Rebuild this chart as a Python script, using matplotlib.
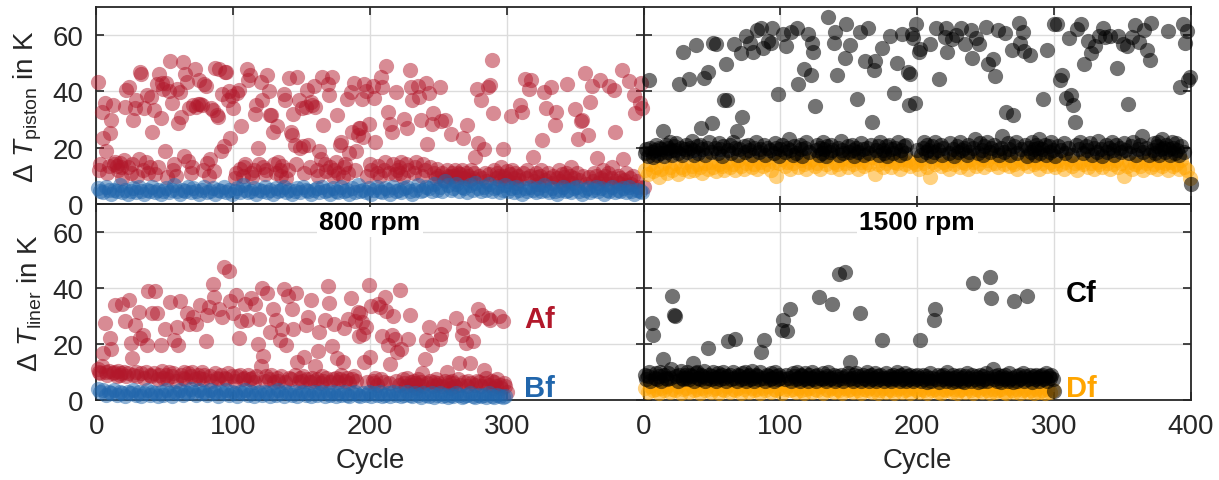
# -*- coding: utf-8 -*-
# Temperature rise per cycle, piston and liner, 800 rpm vs 1500 rpm
import numpy as np
import matplotlib
matplotlib.use('Agg')
import matplotlib.pyplot as plt

# ---------------- data ----------------
# piston, 800 rpm: Af every cycle 1..400, Bf every 2nd cycle 1..399
af_piston = [
    43.3, 12, 14, 32.7, 23.5, 35.9, 18.7, 11, 13.5, 25.2,
    29.8, 35, 14, 15, 13.5, 12, 14.5, 13, 9, 15.5,
    34.5, 40.4, 13, 41.5, 11, 14, 29.8, 34, 36.8, 10,
    16, 46.8, 46.3, 12, 34, 15, 38.6, 11, 13, 38,
    25.7, 33.3, 10.5, 42.7, 13, 46.2, 30.5, 43, 40.9, 18.7,
    43, 9.5, 40.2, 50.9, 35.8, 12, 14, 10, 40.9, 28.7,
    39.9, 31, 50.3, 17, 46.3, 43.5, 15.2, 34, 11, 13,
    35.1, 48, 34.5, 35.6, 44, 35.6, 35, 12, 42.8, 42,
    14.6, 10, 16, 34, 33.3, 11.5, 48.5, 31.6, 31, 48,
    18.7, 39, 20.5, 47, 47, 36.8, 40.3, 23.5, 38.5, 34,
    9, 11, 39.5, 40.4, 12.5, 27.5, 10, 13, 14, 48,
    44, 46, 11, 9.5, 12, 32, 35, 20, 14, 43.5,
    36.8, 13, 10.5, 12, 46, 40, 31.7, 31.7, 25.7, 14,
    11, 27.5, 15, 12, 10, 13.5, 39, 36.8, 9, 12,
    44.7, 25.7, 24.5, 32, 21, 14, 45, 36.8, 19.9, 34,
    20.5, 11, 34.5, 40.4, 21, 13, 36.3, 35, 42, 34.5,
    12, 10, 18.7, 15.8, 45, 28, 14, 11.5, 42.7, 38.6,
    13, 45, 10, 12, 15, 31.7, 11, 21, 22, 9.5,
    13, 14, 37.4, 11, 18, 39.9, 25.7, 43, 12, 18.7,
    24.5, 26.9, 27, 37.4, 23.6, 42.8, 40, 10, 28.5, 14,
    12, 42, 37.5, 22, 11, 13.5, 10, 45, 41.5, 12,
    15, 48.9, 32.6, 11, 28.4, 25.5, 14, 10.5, 39.8, 12,
    13, 11, 15, 9.5, 30, 14, 27, 12, 47.6, 41.5,
    36.8, 11, 13, 15, 42, 37.9, 29.8, 10, 14, 12,
    42.9, 21.3, 39.3, 13, 28.4, 32.4, 11, 9, 12.5, 10,
    41.5, 29.3, 11, 8.5, 29.8, 12, 10, 9.5, 24.9, 11,
    10, 12, 8, 11, 9.5, 10.5, 12, 23.4, 9, 11,
    28, 10, 8.5, 12, 9, 11, 16.7, 40.7, 21.5, 10,
    37.1, 9, 19.4, 11, 8, 41.5, 10.5, 42.4, 51.2, 32.2,
    12, 9, 11, 10, 8.5, 13, 19.4, 10, 9, 11.5,
    8, 10.5, 31.3, 12, 9, 11, 7.5, 10, 8.5, 35,
    32.7, 11, 44.4, 9, 12, 41, 10, 44, 16.6, 8,
    11, 9.5, 7, 10, 12, 22.6, 39.9, 8.5, 34, 11,
    9, 41.5, 7.5, 10, 27.9, 32.7, 9, 12, 8, 10.5,
    7, 9.5, 11, 42.7, 8, 10, 13, 7.5, 9, 33.6,
    11, 23.2, 8.5, 29.5, 29.8, 10, 46.4, 7, 24.3, 9.5,
    36.3, 42, 8, 11, 10, 16.1, 7.5, 44, 9, 12,
    8.5, 10, 7, 11, 42, 9, 13, 40.4, 25.4, 8,
    10, 7.5, 9, 47.6, 16, 8.5, 11, 6.5, 43.8, 9,
    7, 10, 38.6, 32.2, 8, 6, 36, 43, 34, 6,
]
bf_piston = [
    5.5, 4.5, 4, 6, 5, 3.5, 5, 4.5, 6.5, 4,
    5, 3.5, 4.5, 5.5, 4, 6, 4.5, 3.5, 5, 4.5,
    6, 4, 5, 3.5, 4.5, 5.5, 4, 5, 6.5, 4.5,
    3.5, 5, 4.5, 6, 4, 5.5, 4.5, 3.5, 5, 6,
    4, 4.5, 5.5, 3.5, 5, 4.5, 6, 4, 5, 3.5,
    4.5, 5.5, 4, 6.5, 5, 4, 4.5, 5.5, 3.5, 5,
    4.5, 6, 4, 5, 3.5, 5.5, 4.5, 5, 6, 4,
    5, 3.5, 4.5, 5.5, 4, 6, 5, 4.5, 3.5, 5,
    5.5, 4, 6, 4.5, 5, 3.5, 5.5, 4.5, 4, 6,
    4.5, 5, 3.5, 5.5, 4, 6.5, 4.5, 5, 4, 5.5,
    3.5, 5, 6, 4.5, 4, 5.5, 5, 3.5, 6, 4.5,
    5, 4, 5.5, 6, 4.5, 3.5, 5, 6.5, 4.5, 5,
    6, 5.5, 4.5, 7, 5, 6, 4.5, 8, 6.5, 5,
    5.5, 7, 4.5, 6, 5.5, 4, 6.5, 5, 7.5, 5.5,
    4.5, 6, 5, 7, 4.5, 5.5, 6, 4, 5, 6.5,
    4.5, 5.5, 4, 6, 5, 3.5, 5.5, 4.5, 6, 5,
    4, 5.5, 4.5, 6.5, 5, 4, 5.5, 4.5, 3.5, 5,
    6, 4.5, 5, 4, 5.5, 6, 4.5, 3.5, 5, 5.5,
    4, 5, 6, 4.5, 5.5, 3.5, 5, 4.5, 6, 4,
    5, 4.5, 5.5, 4, 6, 4.5, 3.5, 5, 4.5, 4,
]

# piston, 1500 rpm: Cf every cycle 1..400, Df every 2nd cycle 1..399
cf_piston = [
    18, 19.5, 17, 44.2, 20, 18.5, 16.5, 19, 21, 17.5,
    20, 18, 19.5, 26, 17, 21, 18.5, 20, 22, 19,
    17.5, 20.5, 19, 21.5, 18, 42.7, 20, 17.5, 54, 19.5,
    21, 18.5, 44.4, 20, 22.5, 19, 17.5, 56.7, 20.5, 18,
    21, 27, 19.5, 44.7, 17.5, 20, 46.8, 22, 18.5, 28.7,
    57.3, 20, 57, 18, 21.5, 19.5, 17, 20.5, 36.8, 49.7,
    37, 19, 21, 18, 22, 57, 20, 26, 17.5, 19.5,
    53.8, 31, 20.5, 18.5, 59.6, 21, 19, 57.3, 17.5, 54,
    20, 22, 62, 18.5, 19.5, 62.6, 55.5, 21, 17.5, 20,
    58, 19, 57.3, 62.6, 18, 21.5, 20, 39.2, 17, 19.5,
    21, 60.5, 18.5, 56, 20, 23, 19, 61.3, 17.5, 20.5,
    18, 62.5, 42.7, 21, 19.5, 17, 48, 20, 22, 60.5,
    18.5, 45.7, 57.3, 54, 34.8, 19, 21, 17.5, 20, 18,
    22, 19.5, 17, 20.5, 66.4, 18.5, 21, 19, 57.3, 61.3,
    45.8, 20, 17.5, 22.5, 19, 18, 51.9, 64, 20.5, 18.5,
    56.4, 21, 19, 17, 20, 37.2, 18.5, 61, 21.5, 19.5,
    17.5, 51, 20, 62.6, 18, 21, 29.2, 47.6, 51, 19,
    20.5, 17.5, 22, 55.5, 19, 18, 20.5, 17, 21, 59.6,
    19.5, 18, 39.5, 20, 50.2, 22, 17.5, 19, 60.5, 20.5,
    18, 21, 46.8, 35, 46.2, 60.5, 59, 35.8, 64, 19,
    54, 55, 17.5, 20, 22, 18.5, 21, 19, 56.8, 17,
    20.5, 18.5, 22, 62.7, 19, 44.5, 21, 17.5, 20, 59.2,
    62.7, 54.2, 18, 21.5, 58.5, 19.5, 17, 60, 20.5, 18.5,
    22, 62.7, 19, 20, 56.8, 17.5, 21, 18.5, 62, 51.9,
    20, 23, 59, 18, 56.8, 21.5, 19, 17.5, 20.5, 63,
    22, 49.9, 18.5, 20, 51.6, 21, 45.6, 19, 62, 17.5,
    20, 24, 18.5, 60.8, 32.7, 21.5, 19.5, 17.5, 54.8, 31.7,
    20.5, 22, 18, 64.4, 57.3, 19.5, 61, 54.3, 21, 17,
    20, 53.1, 18.5, 22, 19.5, 17.5, 21, 20, 23, 18,
    19.5, 37.2, 21, 17.5, 54.8, 20.5, 18.5, 22, 19, 63.9,
    17, 63.9, 20.5, 44, 19, 45.8, 21.5, 18, 37.7, 20,
    59, 38.8, 17.5, 35.2, 29.2, 21, 62.3, 19.5, 22, 64,
    18, 49.9, 20.5, 19, 58, 21.5, 53.7, 17.5, 20, 56,
    18.5, 22.5, 59.8, 19.5, 17, 62.5, 59.2, 21, 18.5, 20,
    59.8, 22, 19, 17.5, 21, 48.5, 59.8, 20, 18.5, 56.8,
    21.5, 19, 56, 35.5, 18, 20.5, 59.2, 22, 63.5, 17.5,
    19.5, 57.7, 21, 24, 18.5, 62, 20, 54.8, 17.5, 51.2,
    64.4, 19, 21.5, 18, 20.5, 22, 17.5, 19.5, 23, 20,
    18.5, 21, 61.6, 19.5, 17.5, 22, 20, 18, 21.5, 19,
    17.5, 41.5, 20.5, 64, 18.5, 57.3, 61.5, 44.2, 45, 7,
]
df_piston = [
    12, 10.5, 14, 11.5, 13, 9.5, 12.5, 14.5, 11, 13,
    12, 14.5, 10.5, 13, 12.5, 15, 11.5, 13.5, 12, 14,
    13, 11, 14.5, 12.5, 15, 13, 11.5, 14, 13.5, 12,
    15, 13, 14, 12, 15.5, 13.5, 12.5, 14.5, 16, 13,
    14, 12.5, 15, 13.5, 16, 14, 12, 15, 9.8, 14.5,
    16, 13.5, 15, 12.5, 14.5, 16.5, 13, 15.5, 14, 12.5,
    15, 16, 13.5, 14.5, 12.5, 15.5, 14, 16.5, 13, 15,
    14, 12.5, 16, 14.5, 13, 15.5, 14, 16, 12.5, 15,
    13.5, 15, 14, 16.5, 10.5, 14, 15.5, 13, 14.5, 16,
    13, 15, 14.5, 12.5, 16, 14, 15.5, 13.5, 15, 14,
    12.5, 16, 14.5, 13, 9.4, 15, 14, 16, 13.5, 15,
    14, 12.5, 15.5, 14, 16.5, 13, 15, 14.5, 12.5, 16,
    15, 13.5, 14.5, 16, 13, 15.5, 14, 17, 14.5, 13,
    15.5, 14, 16.5, 13.5, 15, 14, 12.5, 16, 14.5, 15,
    13.5, 16, 14, 15, 12.5, 14.5, 16, 13.5, 15, 14,
    13, 15.5, 14, 12.5, 15, 16, 13.5, 14.5, 12, 15,
    14, 16, 13, 14.5, 12.5, 15, 14, 13, 15.5, 14.5,
    12.5, 14, 15.5, 13, 14.5, 9.8, 13.5, 15, 12.5, 14,
    15, 13.5, 12, 14.5, 15.5, 13, 14, 12.5, 15, 13.5,
    14.5, 12, 15, 13.5, 14, 12.5, 15.5, 13, 12, 9,
]

# liner, 800 rpm: Af every cycle 1..300, Bf every 2nd cycle 1..299
af_liner = [
    11, 10, 9.5, 12, 16.8, 27.6, 10, 9, 10.5, 22.2,
    18.3, 9.5, 10, 33.8, 8.5, 10.5, 9, 9.5, 34.3, 10,
    28.3, 8.5, 9.5, 35.6, 20.3, 15, 9, 26.8, 10, 8.5,
    31.4, 22.2, 9.5, 23.3, 8, 10, 19.7, 38.8, 9, 8.5,
    31, 9.5, 38.8, 31, 7.5, 9, 19.7, 10.5, 8, 25.3,
    9, 7.5, 10, 35, 8.5, 9.5, 21.5, 7, 26, 19.7,
    35.2, 9, 8, 10, 7.5, 31, 9.5, 27.3, 8.5, 10,
    29.6, 7.5, 27.3, 9, 8, 33.8, 10, 7.5, 9, 21,
    30.2, 33.1, 8.5, 7, 41.4, 36.8, 9.5, 8, 7.5, 32.6,
    9, 29.6, 47.5, 8, 7.5, 9.5, 45.9, 35.2, 8.5, 31,
    7, 37.5, 8.5, 22.3, 9, 28.2, 7.5, 8, 34.2, 28.5,
    9, 7.5, 36.4, 8, 6.5, 34.2, 8.5, 19.9, 29, 12,
    40, 15.6, 7, 8.5, 38, 7.5, 24.2, 9, 32.3, 6.5,
    28.7, 8, 7, 21.6, 8.5, 25.4, 39.5, 6.5, 19.5, 37,
    8, 7.5, 32.3, 25.2, 9, 38, 13.6, 6.5, 8, 7,
    8.5, 15.5, 26.6, 7.5, 29.5, 6.5, 35.7, 8, 7, 12.3,
    7.5, 17.4, 24.3, 6, 8.5, 7, 28.6, 8, 40.7, 34.6,
    6.5, 19.2, 7.5, 27.3, 8, 14.9, 6.5, 7.5, 9, 13.5,
    25.7, 7, 8, 29, 6, 36.4, 7.5, 8.5, 28.3, 7,
    31.5, 23, 31, 28, 23.4, 13.5, 25.9, 6.5, 41.2, 15.5,
    33.5, 7, 6, 8, 5.5, 34.3, 33.1, 7.5, 22.8, 6.5,
    36.8, 31.6, 19.6, 6, 13, 23.3, 29.9, 21.9, 7, 17,
    5.5, 39.2, 18.3, 7.5, 6, 5, 8, 21.9, 30.5, 6.5,
    5.5, 7, 6, 4.5, 7.5, 5.5, 6.5, 9.7, 5, 14.6,
    21.6, 6, 26, 7, 19.6, 5, 6.5, 7.5, 5.5, 6,
    21.9, 23.6, 5, 26.5, 7, 9.9, 5.5, 6.5, 4.5, 7,
    6, 5, 29.3, 7.5, 13.2, 5.5, 23.1, 25.7, 6.5, 20.3,
    5, 7, 13.1, 6, 21.2, 28.2, 5.5, 7, 32.3, 6.5,
    5, 30.5, 10.8, 6, 8, 29.3, 5.5, 28.7, 7, 4.5,
    6.5, 5, 7.5, 29.9, 5.5, 4.5, 28.2, 6, 5, 3,
]
bf_liner = [
    4, 3, 3.5, 2, 3, 2.5, 3.5, 2, 3, 2.5,
    1.5, 3, 2.5, 3.5, 2, 3, 1.5, 2.5, 3.5, 2,
    3, 2.5, 1.5, 3, 2, 3.5, 2.5, 1.5, 3, 2.5,
    3.5, 2, 3, 2.5, 4, 3, 2, 3.5, 2.5, 3,
    2, 3.5, 2.5, 3, 1.5, 3, 2.5, 3.5, 2, 3,
    2.5, 1.5, 3, 2.5, 3.5, 2, 3, 1.5, 2.5, 3,
    2, 3, 2.5, 1.5, 3, 2, 3.5, 2.5, 1.5, 3,
    2.5, 2, 3, 1.5, 2.5, 3, 2, 2.5, 1.5, 3,
    2, 2.5, 3, 1.5, 2.5, 2, 3, 1.5, 2.5, 2,
    3, 2, 1.5, 2.5, 3, 2, 1.5, 2.5, 2, 3,
    1.5, 2.5, 2, 3, 1.5, 2, 2.5, 1.5, 3, 2,
    2.5, 1.5, 2, 3, 2, 1.5, 2.5, 2, 1, 2.5,
    2, 1.5, 2.5, 1, 2, 2.5, 1.5, 2, 1, 2,
    1.5, 2.5, 2, 1, 1.5, 2, 2.5, 1.5, 1, 2,
    1.5, 2, 1, 2.5, 1.5, 1, 2, 1.5, 1, 1.5,
]

# liner, 1500 rpm: Cf every cycle 1..300, Df every 2nd cycle 1..299
cf_liner = [
    9, 7.5, 8.5, 10, 7, 27.6, 23.2, 8, 9.5, 7.5,
    8.5, 10, 7, 14.6, 9, 8, 7.5, 9.5, 8, 11,
    37, 30.3, 29.9, 8.5, 7, 9, 10.5, 8, 7.5, 9,
    8, 10, 7.5, 9, 8.5, 13.2, 7, 9.5, 10, 8,
    7.5, 9, 8.5, 10.5, 7, 8, 18.7, 9, 7.5, 8.5,
    10, 8, 7, 9.5, 8.5, 7.5, 9, 10, 8, 7,
    8.5, 21.1, 9, 7.5, 10, 8, 21.9, 7, 9, 8.5,
    7.5, 9.5, 8, 10, 7, 8.5, 9, 7.5, 10.5, 8,
    7, 9, 8.5, 7.5, 10, 17.1, 8, 21.4, 7, 9,
    8.5, 7.5, 9.5, 8, 7, 10, 8.5, 7.5, 9, 8,
    25.1, 28.5, 7.5, 9, 24.5, 8, 32.4, 7, 9.5, 8.5,
    7.5, 10, 8, 7, 9, 8.5, 7.5, 9.5, 8, 7,
    9, 8, 10, 7.5, 8.5, 7, 9, 36.7, 8, 7.5,
    9.5, 8, 7, 8.5, 10, 7.5, 8, 34.3, 9, 7,
    8.5, 7.5, 44.8, 9, 8, 7, 45.6, 8.5, 9.5, 7.5,
    13.5, 8, 7, 9, 9.8, 7.5, 8.5, 31.2, 7, 9,
    8, 7.5, 10, 8.5, 7, 9, 7.5, 8, 9.5, 7,
    8.5, 7.5, 9, 21.4, 8, 7, 9.5, 8, 7.5, 8.5,
    7, 9, 8, 7.5, 10, 8.5, 7, 9, 7.5, 8,
    9.5, 7, 8.5, 7.5, 9, 8, 7, 8.5, 7.5, 9,
    8, 21.6, 7, 9, 7.5, 8.5, 6.5, 8, 9.5, 7,
    8, 28.6, 32.5, 7.5, 9, 6.5, 8.5, 7.5, 9, 8,
    7, 10, 8, 7.5, 6.5, 9, 8, 7, 8.5, 7.5,
    9, 7, 8, 6.5, 8.5, 9.5, 7.5, 8, 7, 9,
    41.9, 7.5, 8.5, 6.5, 8, 9, 7, 8.5, 7.5, 9.5,
    7, 8, 43.7, 36.4, 11, 7.5, 8.5, 7, 9, 8,
    6.5, 8.5, 7.5, 9, 8, 7, 9.5, 7.5, 8, 6.5,
    35.2, 8.5, 7, 9, 7.5, 8, 9.5, 7, 8.5, 37.2,
    7.5, 9, 8, 6.5, 8.5, 7.5, 9, 8, 7, 8.5,
    9, 7.5, 8, 9.5, 7, 8.5, 8, 9, 7.5, 3.3,
]
df_liner = [
    4.5, 3, 5, 3.5, 4, 2.5, 4.5, 3.5, 5, 3,
    4, 3.5, 5, 2.5, 4, 4.5, 3, 5, 3.5, 4,
    2.5, 4.5, 3.5, 5, 3, 4, 4.5, 2.5, 4, 3.5,
    5, 3, 4, 3.5, 4.5, 2.5, 4, 5, 3, 4.5,
    3.5, 4, 2.5, 4.5, 3.5, 5, 3, 4, 3.5, 4.5,
    2.5, 4, 5, 3.5, 4, 3, 4.5, 3.5, 2.5, 4,
    4.5, 3, 4, 3.5, 5, 2.5, 4, 3.5, 4.5, 3,
    4, 3.5, 2.5, 4.5, 3.5, 4, 3, 4.5, 3.5, 2.5,
    4, 3.5, 4.5, 3, 4, 2.5, 3.5, 4.5, 3, 4,
    3.5, 2.5, 4, 4.5, 3, 3.5, 4, 2.5, 4.5, 3.5,
    3, 4, 3.5, 2.5, 4.5, 3.5, 4, 3, 2.5, 4,
    3.5, 4.5, 3, 4, 2.5, 3.5, 4, 3, 4.5, 3.5,
    2.5, 4, 3.5, 3, 4.5, 3.5, 2.5, 4, 3, 3.5,
    4, 3, 2.5, 4.5, 3.5, 3, 4, 2.5, 3.5, 4,
    3, 3.5, 2.5, 4, 3, 3.5, 2.5, 4, 3, 3.5,
]

x_ticks = [0, 100, 200, 300, 400]
y_ticks = [0, 20, 40, 60]
speed_labels = ['800 rpm', '1500 rpm']
series_labels = ['Af', 'Bf', 'Cf', 'Df']

# ---------------- styling ----------------
RED, BLUE, ORANGE, BLACK = '#B2182B', '#2166AC', '#FFA500', '#000000'
TXT = '#262626'

plt.rcParams['font.family'] = ['Liberation Sans', 'DejaVu Sans']
plt.rcParams['mathtext.fontset'] = 'custom'
plt.rcParams['mathtext.rm'] = 'Liberation Sans'
plt.rcParams['mathtext.it'] = 'Liberation Sans:italic'
plt.rcParams['mathtext.bf'] = 'Liberation Sans:bold'

fig, axs = plt.subplots(2, 2, figsize=(12.19, 4.81), dpi=100)
fig.patch.set_facecolor('white')
fig.subplots_adjust(left=0.079, right=0.977, top=0.983, bottom=0.166,
                    hspace=0, wspace=0)

MS = 120


def cyc(vals, step=1):
    return np.arange(1, step * len(vals) + 1, step)


def dots(ax, vals, color, step=1, alpha=0.5):
    vals = np.asarray(vals, dtype=float)
    ax.scatter(cyc(vals, step), vals, s=MS, color=color, alpha=alpha,
               linewidths=0, clip_on=False, zorder=3)


# upper left: piston 800 rpm
dots(axs[0, 0], af_piston, RED)
dots(axs[0, 0], bf_piston, BLUE, step=2)
# upper right: piston 1500 rpm
dots(axs[0, 1], df_piston, ORANGE, step=2)
dots(axs[0, 1], cf_piston, BLACK, alpha=0.55)
# lower left: liner 800 rpm
dots(axs[1, 0], af_liner, RED)
dots(axs[1, 0], bf_liner, BLUE, step=2)
# lower right: liner 1500 rpm
dots(axs[1, 1], df_liner, ORANGE, step=2)
dots(axs[1, 1], cf_liner, BLACK, alpha=0.55)

for r in range(2):
    for c in range(2):
        ax = axs[r, c]
        ax.set_facecolor('none')
        ax.set_xlim(0, 400)
        ax.set_ylim(0, 70)
        ax.set_xticks(x_ticks)
        ax.set_yticks(y_ticks)
        ax.grid(True, color='#dcdcdc', lw=1)
        ax.set_axisbelow(True)
        ax.tick_params(direction='in', top=True, right=True, length=6,
                       width=1.2, labelsize=20, colors=TXT, pad=9)
        for s in ax.spines.values():
            s.set_color(TXT)
            s.set_linewidth(1.3)
        if r == 0:
            ax.tick_params(labelbottom=False)
        else:
            ax.set_xlabel('Cycle', fontsize=20, color=TXT, labelpad=6)
        if c == 1:
            ax.tick_params(labelleft=False)

axs[1, 0].set_xticklabels(['0', '100', '200', '300', ''])

axs[0, 0].set_ylabel(r'Δ $\mathit{T}_{\mathrm{piston}}$ in K', fontsize=20,
                     color=TXT, labelpad=6)
axs[1, 0].set_ylabel(r'Δ $\mathit{T}_{\mathrm{liner}}$ in K', fontsize=20,
                     color=TXT, labelpad=6)

for c in range(2):
    axs[1, c].text(200, 63.5, speed_labels[c], ha='center', va='center',
                   fontsize=19, fontweight='bold', color='black', zorder=5,
                   bbox=dict(fc='white', ec='none', pad=2))

axs[1, 0].text(324, 29, series_labels[0], color=RED, fontsize=21,
               fontweight='bold', ha='center', va='center')
axs[1, 0].text(324, 4.5, series_labels[1], color=BLUE, fontsize=21,
               fontweight='bold', ha='center', va='center')
axs[1, 1].text(320, 38, series_labels[2], color=BLACK, fontsize=21,
               fontweight='bold', ha='center', va='center')
axs[1, 1].text(320, 4.5, series_labels[3], color=ORANGE, fontsize=21,
               fontweight='bold', ha='center', va='center')

fig.savefig('out.png', dpi=100, facecolor='white')
